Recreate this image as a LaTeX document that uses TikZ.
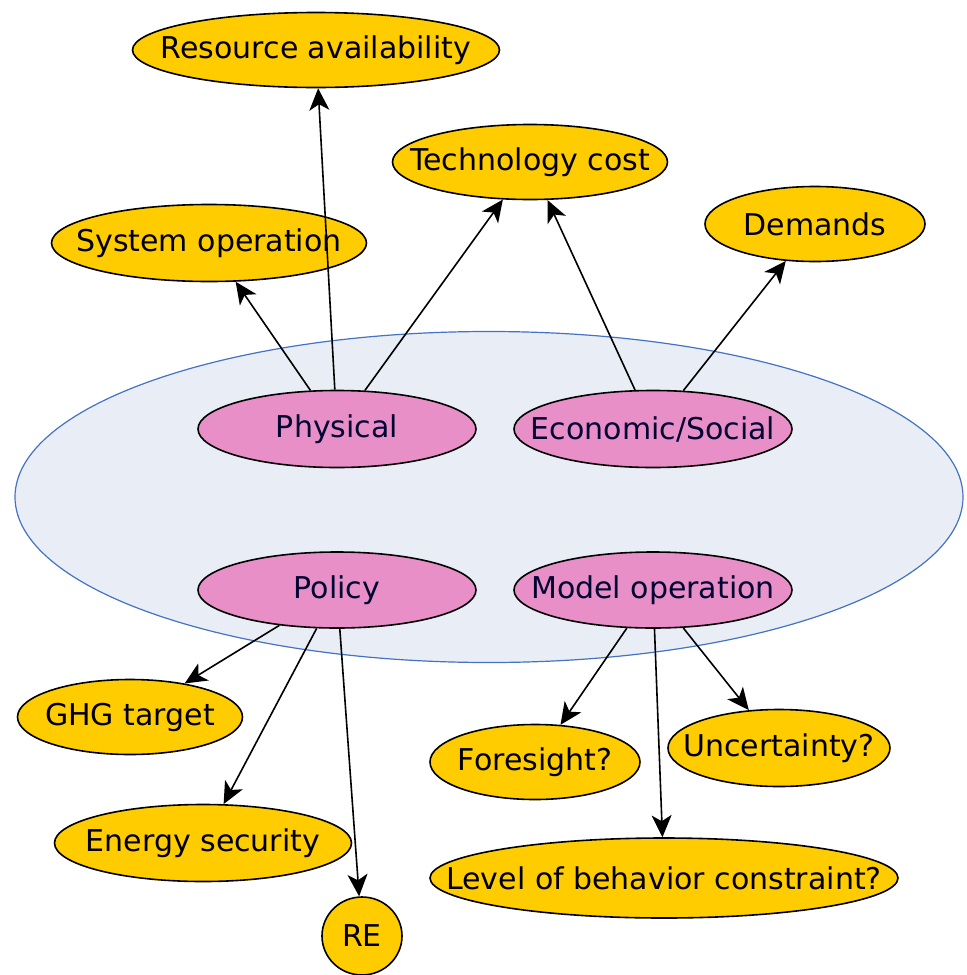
\documentclass[tikz,border=0pt]{standalone}
\usepackage{fontspec}
\setmainfont{DejaVu Sans}
\usetikzlibrary{shapes.geometric,arrows.meta}
\definecolor{gold}{RGB}{255,204,0}
\definecolor{pinkfill}{RGB}{233,143,199}
\definecolor{bigfill}{RGB}{233,237,245}
\definecolor{bigline}{RGB}{68,114,196}
\tikzset{
  ell/.style={ellipse, draw=black, line width=0.8pt, inner sep=0pt},
  lab/.style={font=\fontsize{15}{18}\selectfont, inner sep=0pt},
  yel/.style={ell, fill=gold, label={[lab]center:#1}},
  pnk/.style={ell, fill=pinkfill, label={[lab,text=black!80!blue]center:#1}},
  conn/.style={line width=0.8pt, -{Stealth[length=11pt,width=10pt,inset=3pt]}}
}
\begin{document}
\begin{tikzpicture}[x=0.5pt,y=-0.5pt]
\useasboundingbox (0,0) rectangle (967,975);
\node[ellipse, draw=bigline, line width=0.6pt, fill=bigfill, minimum width=474pt, minimum height=165.5pt] (big) at (489,497) {};
\node[yel={Resource availability}, minimum width=183.5pt, minimum height=37.5pt] (res) at (316,50) {};
\node[yel={Technology cost}, minimum width=137.5pt, minimum height=37.5pt] (tech) at (530,162) {};
\node[yel={System operation}, minimum width=157.5pt, minimum height=38.5pt] (sys) at (209,243) {};
\node[yel={Demands}, minimum width=110pt, minimum height=37.5pt] (dem) at (815,224) {};
\node[pnk={Physical}, minimum width=139pt, minimum height=38.5pt] (phys) at (337,429) {};
\node[pnk={Economic/Social}, minimum width=139pt, minimum height=38.5pt] (econ) at (653,429) {};
\node[pnk={Policy}, minimum width=139pt, minimum height=38pt] (pol) at (337,590) {};
\node[pnk={Model operation}, minimum width=139pt, minimum height=38pt] (mod) at (653,590) {};
\node[yel={GHG target}, minimum width=112.5pt, minimum height=37.5pt] (ghg) at (130,717) {};
\node[yel={Energy security}, minimum width=148.5pt, minimum height=38.5pt] (ens) at (203,843) {};
\node[yel={RE}, minimum width=40pt, minimum height=39pt] (re) at (362,936) {};
\node[yel={Foresight?}, minimum width=105pt, minimum height=37.5pt] (fore) at (535,762) {};
\node[yel={Uncertainty?}, minimum width=111pt, minimum height=38.5pt] (unc) at (779,748) {};
\node[yel={Level of behavior constraint?}, minimum width=234pt, minimum height=40pt] (lev) at (664,878) {};
\draw[conn] (phys) -- (res);
\draw[conn] (phys) -- (sys);
\draw[conn] (phys) -- (tech);
\draw[conn] (econ) -- (tech);
\draw[conn] (econ) -- (dem);
\draw[conn] (pol) -- (ghg);
\draw[conn] (pol) -- (ens);
\draw[conn] (pol) -- (re);
\draw[conn] (mod) -- (fore);
\draw[conn] (mod) -- (lev);
\draw[conn] (mod) -- (unc);
\end{tikzpicture}
\end{document}
